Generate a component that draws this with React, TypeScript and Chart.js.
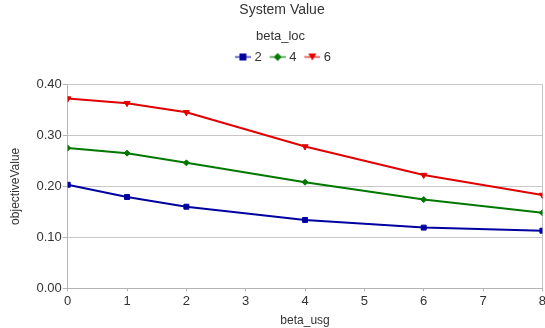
import React, { useEffect, useRef } from "react";
import { Chart, registerables } from "chart.js";

Chart.register(...registerables);

const usgValues = [0, 1, 2, 4, 6, 8];
const seriesLabels = ["2", "4", "6"];
const loc2 = [0.203, 0.179, 0.16, 0.134, 0.119, 0.113];
const loc4 = [0.275, 0.265, 0.246, 0.208, 0.174, 0.148];
const loc6 = [0.372, 0.363, 0.345, 0.278, 0.222, 0.183];
const yTicks = [0, 0.1, 0.2, 0.3, 0.4];
const xTicks = [0, 1, 2, 3, 4, 5, 6, 7, 8];

const COLORS = ["#0000a0", "#007800", "#e00000"];
const STYLES = ["rect", "rectRot", "triangle"];
const FONT = "'Liberation Sans', Arial, sans-serif";
const TEXT = "#333333";
const CANVAS_W = 548;
const CANVAS_H = 328;

function legendImage(color: string, style: string): HTMLCanvasElement {
  const c = document.createElement("canvas");
  c.width = 24;
  c.height = 13;
  const g = c.getContext("2d")!;
  g.strokeStyle = color;
  g.globalAlpha = 0.75;
  g.lineWidth = 1.5;
  g.beginPath();
  g.moveTo(8, 6.5);
  g.lineTo(24, 6.5);
  g.stroke();
  g.globalAlpha = 1;
  g.fillStyle = color;
  g.beginPath();
  if (style === "rect") {
    g.rect(12.5, 3, 7, 7);
  } else if (style === "rectRot") {
    g.moveTo(16, 2.5);
    g.lineTo(20, 6.5);
    g.lineTo(16, 10.5);
    g.lineTo(12, 6.5);
    g.closePath();
  } else {
    g.moveTo(12, 3);
    g.lineTo(20, 3);
    g.lineTo(16, 10);
    g.closePath();
  }
  g.fill();
  return c;
}

export default function App() {
  const ref = useRef<HTMLCanvasElement | null>(null);

  useEffect(() => {
    if (!ref.current) return;
    const series = [loc2, loc4, loc6];
    const images = STYLES.map((s, i) => legendImage(COLORS[i], s));

    const legendMargin = {
      id: "legendMargin",
      beforeInit(chart: any) {
        const orig = chart.legend.fit;
        chart.legend.fit = function fit() {
          orig.bind(chart.legend)();
          this.height += 10.8;
        };
      },
    };
    const shiftBoxes = {
      id: "shiftBoxes",
      afterLayout(chart: any) {
        if (chart.titleBlock) {
          chart.titleBlock.left += 8;
          chart.titleBlock.right += 8;
        }
        if (chart.legend) {
          chart.legend.left += 6.5;
          chart.legend.right += 6.5;
        }
      },
    };

    const chart = new Chart(ref.current, {
      type: "line",
      data: {
        datasets: series.map((vals, i) => ({
          label: seriesLabels[i],
          data: usgValues.map((x, j) => ({ x, y: vals[j] })),
          borderColor: COLORS[i],
          backgroundColor: COLORS[i],
          borderWidth: 2,
          pointStyle: STYLES[i] as any,
          pointRadius: i === 1 ? 3 : 3.5,
          pointRotation: i === 2 ? 180 : 0,
          pointBorderWidth: 1,
          pointBorderColor: COLORS[i],
          pointBackgroundColor: COLORS[i],
          tension: 0,
          fill: false,
        })),
      },
      options: {
        animation: false,
        responsive: false,
        maintainAspectRatio: false,
        devicePixelRatio: 1,
        layout: { padding: { left: 0, right: 0, top: 0, bottom: 0 } },
        plugins: {
          title: {
            display: true,
            text: "System Value",
            color: TEXT,
            font: { family: FONT, size: 14, weight: "normal" },
            padding: { top: 1.6, bottom: 6 },
          },
          legend: {
            display: true,
            position: "top",
            align: "center",
            title: {
              display: true,
              text: "beta_loc",
              color: TEXT,
              font: { family: FONT, size: 13 },
              padding: { top: 6, bottom: 1.5 },
            },
            labels: {
              usePointStyle: true,
              pointStyleWidth: 18,
              padding: 3,
              color: TEXT,
              font: { family: FONT, size: 13 },
              generateLabels: (ch: any) =>
                ch.data.datasets.map((ds: any, i: number) => ({
                  text: ds.label,
                  pointStyle: images[i],
                  rotation: 0,
                  fillStyle: COLORS[i],
                  strokeStyle: COLORS[i],
                  lineWidth: 0,
                  hidden: false,
                  datasetIndex: i,
                  fontColor: TEXT,
                })),
            },
          },
          tooltip: { enabled: false },
        },
        scales: {
          x: {
            type: "linear",
            min: 0,
            max: 8,
            afterBuildTicks: (scale: any) => {
              scale.ticks = xTicks.map((v) => ({ value: v }));
            },
            ticks: {
              stepSize: 1,
              padding: 2,
              color: TEXT,
              font: { family: FONT, size: 13 },
              callback: (v: any) => String(v),
            },
            grid: {
              color: (ctx: any) => (ctx.tick && ctx.tick.value === 8 ? "#c4c4c4" : "rgba(0,0,0,0)"),
              tickColor: "#b4b4b4",
              tickLength: 3,
              lineWidth: 1,
            },
            border: { display: true, color: "#b4b4b4", width: 1 },
            title: {
              display: true,
              text: "beta_usg",
              color: TEXT,
              font: { family: FONT, size: 12 },
              padding: { top: 2.7, bottom: 0 },
            },
          },
          y: {
            type: "linear",
            min: 0,
            max: 0.4,
            afterBuildTicks: (scale: any) => {
              scale.ticks = yTicks.map((v) => ({ value: v }));
            },
            ticks: {
              stepSize: 0.1,
              padding: 1,
              color: TEXT,
              font: { family: FONT, size: 13 },
              callback: (v: any) => Number(v).toFixed(2),
            },
            grid: {
              color: "#c8c8c8",
              tickColor: "#b4b4b4",
              tickLength: 5,
              lineWidth: 1,
            },
            border: { display: true, color: "#b4b4b4", width: 1 },
            title: {
              display: true,
              text: "objectiveValue",
              color: TEXT,
              font: { family: FONT, size: 12 },
              padding: { top: 8.3, bottom: 12.7 },
            },
          },
        },
      },
      plugins: [legendMargin, shiftBoxes],
    } as any);

    return () => chart.destroy();
  }, []);

  return (
    <div style={{ position: "absolute", left: 0, top: 0, width: 545, height: CANVAS_H, overflow: "hidden", background: "#ffffff" }}>
      <canvas ref={ref} width={CANVAS_W} height={CANVAS_H} style={{ display: "block", width: CANVAS_W, height: CANVAS_H }} />
    </div>
  );
}
